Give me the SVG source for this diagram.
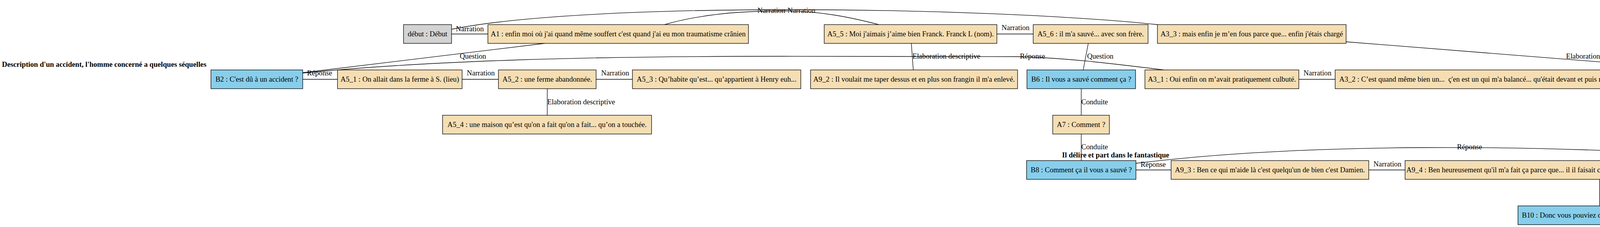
<svg xmlns="http://www.w3.org/2000/svg" width="5409" height="581" viewBox="0 0 5409 581">
<style>
.n rect{stroke:#000;stroke-width:1.3}
.a rect{fill:#F5DEB3}
.b rect{fill:#87CEEB}
.g rect{fill:#D3D3D3}
text{font-family:"Liberation Serif","Times New Roman",serif;font-size:18.67px;fill:#000}
.n text{text-anchor:middle}
.t{font-weight:bold}
#edges path{fill:none;stroke:#000;stroke-width:1.3}
</style>
<rect width="5409" height="581" fill="#fff"/>
<text class="t" x="5" y="171">Description d'un accident, l'homme concerné a quelques séquelles</text>
<text class="t" x="2856" y="403" text-anchor="middle">Il délire et part dans le fantastique</text>
<g id="edges">
<path d="M1156,87H1249"/>
<path d="M1156,75C1500,5 2500,15 2963,63"/>
<path d="M1701,63C1800,35 1900,28 2010,28C2100,28 2180,45 2250,63"/>
<path d="M775,186L1395,111"/>
<path d="M775,187C1100,155 1500,144 2000,144L2600,145C2750,148 2900,170 2980,179"/>
<path d="M775,203H864"/>
<path d="M1183,203H1276"/>
<path d="M1526,203H1619"/>
<path d="M1401,227V295"/>
<path d="M2552,87H2645"/>
<path d="M2333,111L2338,179"/>
<path d="M2786,111L2773,179"/>
<path d="M2768,227V295"/>
<path d="M2768,343V411"/>
<path d="M3325,203H3418"/>
<path d="M3446,107L4355,179"/>
<path d="M4642,227V295"/>
<path d="M2908,435H2998"/>
<path d="M3504,435H3597"/>
<path d="M2908,418C3300,370 3900,360 4617,414"/>
<path d="M4095,459V527"/>
<path d="M4304,551H4395"/>
<text x="1167" y="80">Narration</text>
<text x="1939" y="33">Narration</text>
<text x="2016" y="33">Narration</text>
<text x="1177" y="150">Question</text>
<text x="786" y="193">Réponse</text>
<text x="1195" y="193">Narration</text>
<text x="1539" y="193">Narration</text>
<text x="1401" y="267">Elaboration descriptive</text>
<text x="2564" y="77">Narration</text>
<text x="2336" y="150">Elaboration descriptive</text>
<text x="2611" y="150">Réponse</text>
<text x="2783" y="150">Question</text>
<text x="2768" y="267">Conduite</text>
<text x="2768" y="382">Conduite</text>
<text x="3337" y="193">Narration</text>
<text x="4009" y="150">Elaboration descriptive</text>
<text x="4643" y="267">Question</text>
<text x="2920" y="427">Réponse</text>
<text x="3516" y="426">Narration</text>
<text x="3730" y="382">Réponse</text>
<text x="4095" y="502">Question</text>
<text x="4316" y="546">Réponse</text>
</g>
<g id="debut" class="n g"><rect x="1033" y="63" width="123" height="48"/><text x="1094.5" y="93">début : Début</text></g>
<g id="A1" class="n a"><rect x="1249" y="63" width="667" height="48"/><text x="1582.5" y="93">A1 : enfin moi où j'ai quand même souffert c'est quand j'ai eu mon traumatisme crânien</text></g>
<g id="A5_5" class="n a"><rect x="2110" y="63" width="442" height="48"/><text x="2331" y="93">A5_5 : Moi j'aimais j’aime bien Franck. Franck L (nom).</text></g>
<g id="A5_6" class="n a"><rect x="2645" y="63" width="294" height="48"/><text x="2792" y="93">A5_6 : il m'a sauvé... avec son frère.</text></g>
<g id="A3_3" class="n a"><rect x="2963" y="63" width="483" height="48"/><text x="3204.5" y="93">A3_3 : mais enfin je m’en fous parce que... enfin j'étais chargé</text></g>
<g id="B2" class="n b"><rect x="540" y="179" width="235" height="48"/><text x="657.5" y="209">B2 : C'est dû à un accident ?</text></g>
<g id="A5_1" class="n a"><rect x="864" y="179" width="319" height="48"/><text x="1023.5" y="209">A5_1 : On allait dans la ferme à S. (lieu)</text></g>
<g id="A5_2" class="n a"><rect x="1276" y="179" width="250" height="48"/><text x="1401" y="209">A5_2 : une ferme abandonnée.</text></g>
<g id="A5_3" class="n a"><rect x="1619" y="179" width="431" height="48"/><text x="1834.5" y="209">A5_3 : Qu’habite qu’est... qu’appartient à Henry euh...</text></g>
<g id="A9_2" class="n a"><rect x="2075" y="179" width="530" height="48"/><text x="2340" y="209">A9_2 : Il voulait me taper dessus et en plus son frangin il m'a enlevé.</text></g>
<g id="B6" class="n b"><rect x="2629" y="179" width="278" height="48"/><text x="2768" y="209">B6 : Il vous a sauvé comment ça ?</text></g>
<g id="A3_1" class="n a"><rect x="2931" y="179" width="394" height="48"/><text x="3128" y="209">A3_1 : Oui enfin on m’avait pratiquement culbuté.</text></g>
<g id="A3_2" class="n a"><rect x="3418" y="179" width="871" height="48"/><text x="3853.5" y="209" xml:space="preserve">A3_2 : C’est quand même bien un...  ç'en est un qui m'a balancé... qu'était devant et puis moi derrière et qui m’a...</text></g>
<g id="A3_4" class="n a"><rect x="4313" y="179" width="659" height="48"/><text x="4642.5" y="209" xml:space="preserve">A3_4 : J'avais quand même 5 litres de vin de... de  pineau 5 litres de bière plus 1 ou 2.</text></g>
<g id="A5_4" class="n a"><rect x="1133" y="295" width="535" height="48"/><text x="1400.5" y="325">A5_4 : une maison qu’est qu'on a fait qu'on a fait... qu’on a touchée.</text></g>
<g id="A7" class="n a"><rect x="2695" y="295" width="145" height="48"/><text x="2767.5" y="325">A7 : Comment ?</text></g>
<g id="B4" class="n b"><rect x="4539" y="295" width="207" height="48"/><text x="4642.5" y="325">B4 : Que vous aviez bu ?</text></g>
<g id="B8" class="n b"><rect x="2628" y="411" width="280" height="48"/><text x="2768" y="441">B8 : Comment ça il vous a sauvé ?</text></g>
<g id="A9_3" class="n a"><rect x="2998" y="411" width="506" height="48"/><text x="3251" y="441">A9_3 : Ben ce qui m'aide là c'est quelqu'un de bien c'est Damien.</text></g>
<g id="A9_4" class="n a"><rect x="3597" y="411" width="996" height="48"/><text x="4095" y="441">A9_4 : Ben heureusement qu'il m'a fait ça parce que... il il faisait comme ça il se faisait disparaître et je peux le faire moi disparaître.</text></g>
<g id="A9_1" class="n a"><rect x="4617" y="411" width="786" height="48"/><text x="5010" y="441">A9_1 : Ah mais euh... qui euh... ben il m'a sauvé euh parce que j'étais avec lui parce qu'il... buvait quoi.</text></g>
<g id="B10" class="n b"><rect x="3886" y="527" width="418" height="48"/><text x="4095" y="557">B10 : Donc vous pouviez disparaître et réapparaître ?</text></g>
<g id="A11" class="n a"><rect x="4395" y="527" width="97" height="48"/><text x="4443.5" y="557">A11 : Oui.</text></g>
</svg>
